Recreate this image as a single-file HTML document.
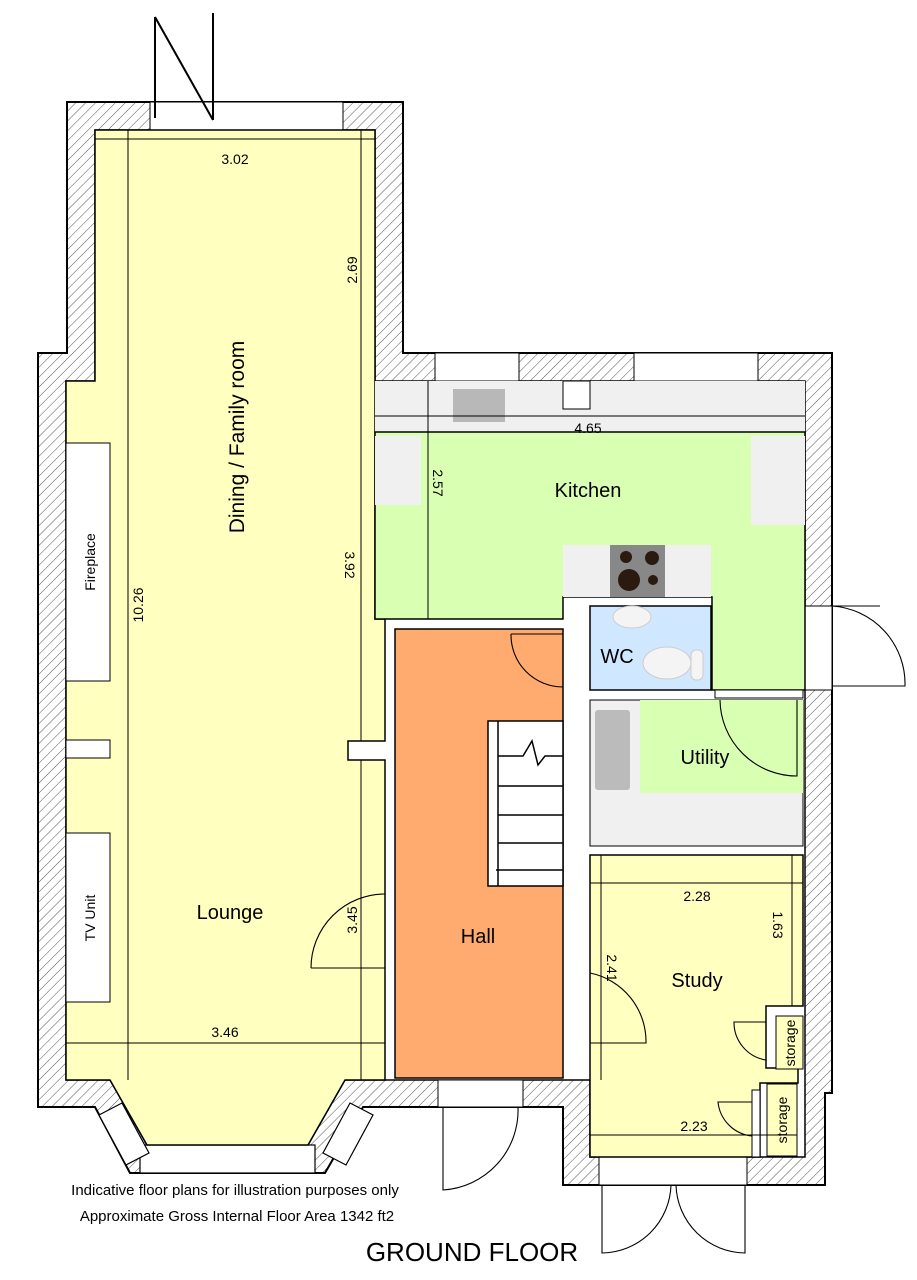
<!DOCTYPE html>
<html><head><meta charset="utf-8"><style>
html,body{margin:0;padding:0;background:#fff}
svg{display:block}
text{font-family:"Liberation Sans","DejaVu Sans",sans-serif;fill:#000}
</style></head><body>
<svg width="917" height="1280" viewBox="0 0 917 1280" xmlns="http://www.w3.org/2000/svg">
<defs>
<pattern id="h" width="7" height="7" patternUnits="userSpaceOnUse" patternTransform="rotate(45)">
<rect width="7" height="7" fill="#fff"/><line x1="0" y1="0" x2="0" y2="7" stroke="#555" stroke-width="1"/>
</pattern>
</defs>
<path d="M67,102 H403 V353 H832 V1093 H825 V1185 H563 V1107 H363 L325,1173 H130 L95,1107 H38 V353 H67 Z" fill="url(#h)" stroke="#000" stroke-width="2"/>
<path d="M95,130 H375 V381 H805 V1157 H590 V1080 H345 L308,1145 H147 L110,1080 H66 V381 H95 Z" fill="#fff" stroke="#000" stroke-width="1.5"/>
<rect x="150" y="102" width="193" height="28" fill="#fff" stroke="#000" stroke-width="1"/>
<rect x="435" y="353" width="84" height="28" fill="#fff" stroke="#000" stroke-width="1"/>
<rect x="634" y="353" width="124" height="28" fill="#fff" stroke="#000" stroke-width="1"/>
<rect x="140" y="1145" width="175" height="28" fill="#fff" stroke="#000" stroke-width="1.2"/>
<polygon points="99,1115 126,1165 149,1153 122,1103" fill="#fff" stroke="#000" stroke-width="1.2"/>
<polygon points="373,1115 346,1165 323,1153 350,1103" fill="#fff" stroke="#000" stroke-width="1.2"/>
<rect x="438" y="1080" width="85" height="27" fill="#fff" stroke="#000" stroke-width="1"/>
<rect x="599" y="1157" width="148" height="28" fill="#fff" stroke="#000" stroke-width="1"/>
<rect x="805" y="606" width="27" height="84" fill="#fff" stroke="#000" stroke-width="1"/>
<path d="M95,130 H375 V619 H385 V741 H348 V760 H385 V1080 H345 L308,1145 H147 L110,1080 H66 V381 H95 Z" fill="#ffffc0" stroke="#000" stroke-width="1.5"/>
<rect x="66" y="443" width="44" height="238" fill="#fff" stroke="#000" stroke-width="1"/>
<rect x="66" y="740" width="44" height="18" fill="#fff" stroke="#000" stroke-width="1"/>
<rect x="66" y="833" width="44" height="169" fill="#fff" stroke="#000" stroke-width="1"/>
<rect x="375" y="381" width="430" height="51" fill="#f0f0f0"/>
<path d="M375,432 H805 V690 H712 V597 H563 V619 H375 Z" fill="#d9ffb3" stroke="#000" stroke-width="1.5"/>
<rect x="375" y="436" width="46" height="69" fill="#f0f0f0"/>
<rect x="751" y="436" width="54" height="89" fill="#f0f0f0"/>
<rect x="453" y="389" width="52" height="33" fill="#b8b8b8"/>
<rect x="563" y="381" width="27" height="28" fill="#fff" stroke="#000" stroke-width="1"/>
<rect x="563" y="545" width="148" height="52" fill="#f0f0f0"/>
<rect x="610" y="545" width="55" height="52" fill="#888"/>
<circle cx="626" cy="557" r="6" fill="#2a1a10"/><circle cx="652" cy="558" r="7" fill="#2a1a10"/>
<circle cx="629" cy="580" r="11" fill="#2a1a10"/><circle cx="653" cy="580" r="5" fill="#2a1a10"/>
<rect x="590" y="606" width="121" height="84" fill="#d0e8ff" stroke="#000" stroke-width="1.5"/>
<ellipse cx="632" cy="617" rx="19" ry="11" fill="#f4f4f4" stroke="#ccc"/>
<ellipse cx="667" cy="663" rx="24" ry="16" fill="#f4f4f4" stroke="#ccc"/>
<rect x="691" y="650" width="12" height="30" rx="5" fill="#f4f4f4" stroke="#ccc"/>
<rect x="715" y="690" width="88" height="8" fill="#fff" stroke="#000" stroke-width="1"/>
<rect x="590" y="700" width="213" height="146" fill="#f0f0f0" stroke="#000" stroke-width="1"/>
<rect x="640" y="700" width="163" height="93" fill="#d9ffb3"/>
<rect x="595" y="710" width="35" height="80" fill="#bbb" rx="3"/>
<rect x="395" y="629" width="168" height="449" fill="#ffab70" stroke="#000" stroke-width="1.5"/>
<rect x="488" y="721" width="75" height="165" fill="#fff" stroke="#000" stroke-width="1.5"/>
<line x1="498" y1="721" x2="498" y2="886" stroke="#000" stroke-width="1.5"/>
<g stroke="#000" stroke-width="1.5" fill="none">
<polyline points="498,756 523,756 532,741 538,765 545,756 563,756"/>
<line x1="498" y1="786" x2="563" y2="786"/><line x1="498" y1="815" x2="563" y2="815"/>
<line x1="498" y1="843" x2="563" y2="843"/><line x1="496" y1="870" x2="563" y2="870"/>
</g>
<path d="M590,855 H803 V1006 H766 V1068 H798 V1083 H760 V1157 H590 Z" fill="#ffffc0" stroke="#000" stroke-width="1.5"/>
<rect x="776" y="1016" width="27" height="53" fill="#ffffc0" stroke="#000" stroke-width="1"/>
<rect x="767" y="1084" width="30" height="72" fill="#ffffc0" stroke="#000" stroke-width="1"/>
<rect x="752" y="1090" width="8" height="67" fill="#fff" stroke="#000" stroke-width="1"/>
<g fill="none" stroke="#000" stroke-width="1.1">
<path d="M311,968 H385 M311,968 A74,74 0 0 1 385,894"/>
<path d="M511,634 H563 M511,634 A52,52 0 0 0 563,687"/>
<path d="M832,606 H880 M832,606 A78,78 0 0 1 905,686 H832"/>
<path d="M443,1107 V1190 A80,80 0 0 0 518,1107"/>
<path d="M602,1185 V1253 A70,70 0 0 0 671,1185"/>
<path d="M745,1185 V1253 A70,70 0 0 1 676,1185"/>
<path d="M590,1043 H646 A70,70 0 0 0 590,973"/>
<path d="M797,700 V776 A77,77 0 0 1 720,700"/>
<path d="M766,1060 A38,38 0 0 1 734,1022 H766"/>
<path d="M752,1136 A38,38 0 0 1 718,1102 H752"/>
</g>
<g stroke="#000" stroke-width="1" fill="none">
<line x1="95" y1="139" x2="375" y2="139"/>
<line x1="128" y1="130" x2="128" y2="1080"/>
<line x1="361" y1="130" x2="361" y2="381"/>
<line x1="361" y1="381" x2="361" y2="741"/>
<line x1="361" y1="760" x2="361" y2="1080"/>
<line x1="66" y1="1043" x2="385" y2="1043"/>
<line x1="375" y1="416" x2="805" y2="416"/>
<line x1="428" y1="381" x2="428" y2="619"/>
<line x1="590" y1="883" x2="803" y2="883"/>
<line x1="792" y1="855" x2="792" y2="1006"/>
<line x1="601" y1="855" x2="601" y2="1080"/>
<line x1="590" y1="1135" x2="797" y2="1135"/>
</g>
<g stroke="#000" stroke-width="2" fill="none">
<line x1="155" y1="17" x2="155" y2="118"/><line x1="155" y1="17" x2="213" y2="120"/><line x1="213" y1="13" x2="213" y2="120"/>
</g>
<g font-size="14">
<text x="235" y="164" text-anchor="middle">3.02</text>
<text x="225" y="1037" text-anchor="middle">3.46</text>
<text x="588" y="433" text-anchor="middle">4.65</text>
<text x="697" y="901" text-anchor="middle">2.28</text>
<text x="694" y="1131" text-anchor="middle">2.23</text>
<text transform="translate(143,605) rotate(-90)" text-anchor="middle">10.26</text>
<text transform="translate(357,270) rotate(-90)" text-anchor="middle">2.69</text>
<text transform="translate(345,565) rotate(90)" text-anchor="middle">3.92</text>
<text transform="translate(357,920) rotate(-90)" text-anchor="middle">3.45</text>
<text transform="translate(433,483) rotate(90)" text-anchor="middle">2.57</text>
<text transform="translate(773,925) rotate(90)" text-anchor="middle">1.63</text>
<text transform="translate(607,968) rotate(90)" text-anchor="middle">2.41</text>
</g>
<text transform="translate(244,437) rotate(-90)" text-anchor="middle" font-size="21">Dining / Family room</text>
<text transform="translate(95,562) rotate(-90)" text-anchor="middle" font-size="14">Fireplace</text>
<text transform="translate(95,918) rotate(-90)" text-anchor="middle" font-size="14">TV Unit</text>
<text transform="translate(795,1043) rotate(-90)" text-anchor="middle" font-size="14">storage</text>
<text transform="translate(787,1120) rotate(-90)" text-anchor="middle" font-size="14">storage</text>
<g font-size="20" text-anchor="middle">
<text x="230" y="919">Lounge</text>
<text x="478" y="943">Hall</text>
<text x="588" y="497">Kitchen</text>
<text x="617" y="663">WC</text>
<text x="705" y="764">Utility</text>
<text x="697" y="987">Study</text>
</g>
<text x="235" y="1195" text-anchor="middle" font-size="15">Indicative floor plans for illustration purposes only</text>
<text x="237" y="1221" text-anchor="middle" font-size="15">Approximate Gross Internal Floor Area 1342 ft2</text>
<text x="472" y="1261" text-anchor="middle" font-size="26">GROUND FLOOR</text>
</svg>
</body></html>
